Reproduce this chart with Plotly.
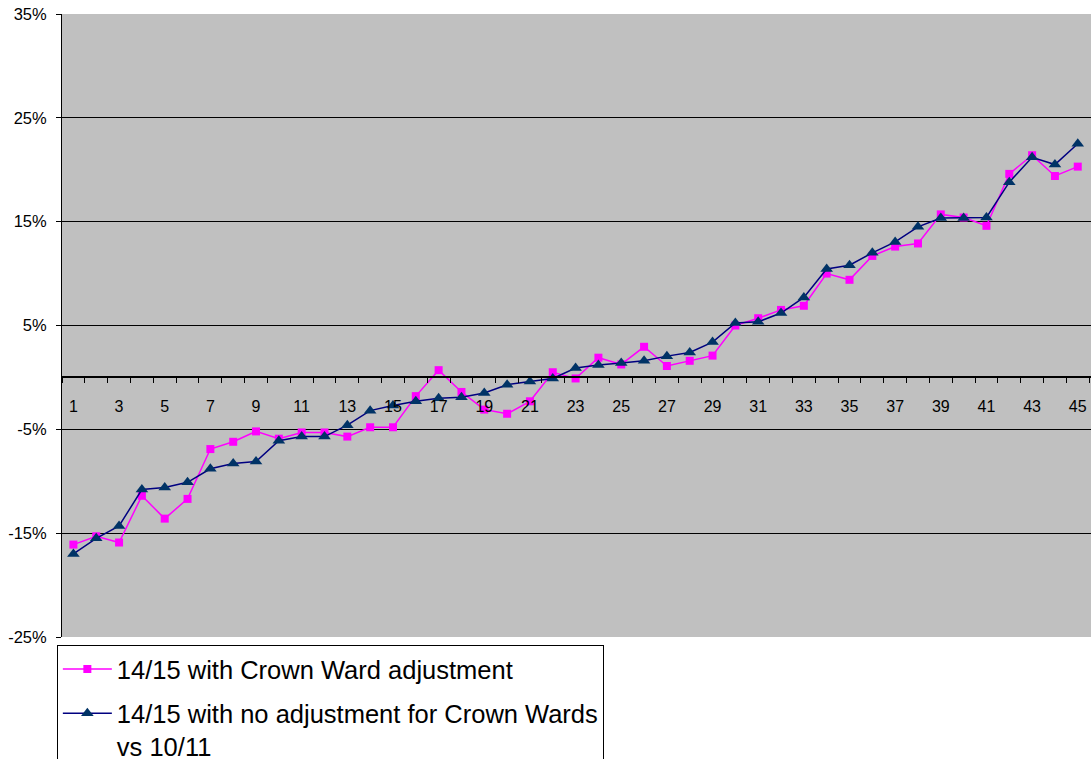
import plotly.graph_objects as go

categories = [str(i) for i in range(1, 46)]
with_adj = [-16.1, -15.3, -15.9, -11.4, -13.6, -11.7, -6.9, -6.2, -5.2, -5.9,
            -5.3, -5.3, -5.7, -4.8, -4.8, -1.8, 0.7, -1.4, -3.1, -3.5,
            -2.3, 0.5, -0.1, 1.9, 1.25, 2.95, 1.1, 1.6, 2.1, 5.0,
            5.7, 6.5, 6.9, 10.0, 9.4, 11.7, 12.6, 12.9, 15.7, 15.4,
            14.6, 19.6, 21.4, 19.4, 20.3]
no_adj = [-17.0, -15.5, -14.3, -10.8, -10.6, -10.1, -8.8, -8.3, -8.1, -6.1,
          -5.7, -5.7, -4.6, -3.2, -2.7, -2.3, -2.0, -1.9, -1.5, -0.7,
          -0.4, -0.1, 0.9, 1.2, 1.4, 1.6, 2.05, 2.4, 3.4, 5.25,
          5.35, 6.2, 7.7, 10.45, 10.8, 12.0, 13.05, 14.5, 15.35, 15.35,
          15.4, 18.8, 21.2, 20.5, 22.5]
series_names = ["14/15 with Crown Ward adjustment",
                "14/15 with no adjustment for Crown Wards<br>vs 10/11"]
x_tick_text = [c if int(c) % 2 == 1 else "" for c in categories]
y_tick_vals = [-25, -15, -5, 5, 15, 25, 35]
y_tick_text = ["-25%", "-15%", "-5%", "5%", "15%", "25%", "35%"]

FONT = "Arial, Liberation Sans, sans-serif"

fig = go.Figure()
fig.add_trace(go.Scatter(
    x=categories, y=with_adj, name=series_names[0], mode="lines+markers",
    line=dict(color="#FF00FF", width=1.5),
    marker=dict(symbol="square", size=8, color="#FF00FF"),
    legendgroup="a"))
fig.add_trace(go.Scatter(
    x=categories, y=no_adj, name=series_names[1], mode="lines+markers",
    line=dict(color="#000080", width=1.5),
    marker=dict(symbol="triangle-up", size=11, color="#003366"),
    legendgroup="b"))

zero_pos = (0 - (-25)) / 60.0

fig.update_layout(
    width=1091, height=759,
    margin=dict(l=62, r=0, t=14, b=122, autoexpand=False),
    paper_bgcolor="white", plot_bgcolor="#C0C0C0",
    font=dict(family=FONT, size=16, color="black"),
    showlegend=True,
    legend=dict(x=-0.005, y=-0.0128, xanchor="left", yanchor="top",
                bgcolor="white", bordercolor="black", borderwidth=1,
                font=dict(size=25.5, family=FONT), traceorder="grouped",
                tracegroupgap=8, valign="top", itemwidth=49),
    xaxis=dict(type="category", range=[-0.5, 44.58], tickmode="array",
               tickvals=categories, ticktext=x_tick_text, tickson="boundaries",
               ticks="outside", ticklen=5, tickcolor="black", tickangle=0,
               showline=True, linecolor="black", linewidth=1.5,
               showgrid=False, anchor="free", position=zero_pos,
               tickfont=dict(size=16), zeroline=False, automargin=False,
               ticklabelstandoff=15),
    yaxis=dict(range=[-25, 35], tickmode="array", tickvals=y_tick_vals,
               ticktext=y_tick_text,
               ticks="outside", ticklen=5, tickcolor="black",
               showline=True, linecolor="black", linewidth=1,
               showgrid=True, gridcolor="black", gridwidth=1,
               zeroline=False, tickfont=dict(size=16.5), automargin=False,
               ticklabelstandoff=6),
)

fig.write_html(
    "out.html",
    config={"displayModeBar": False},
    post_script="document.body.style.margin='0';document.body.style.padding='0';"
                "document.body.style.overflow='hidden';",
)
